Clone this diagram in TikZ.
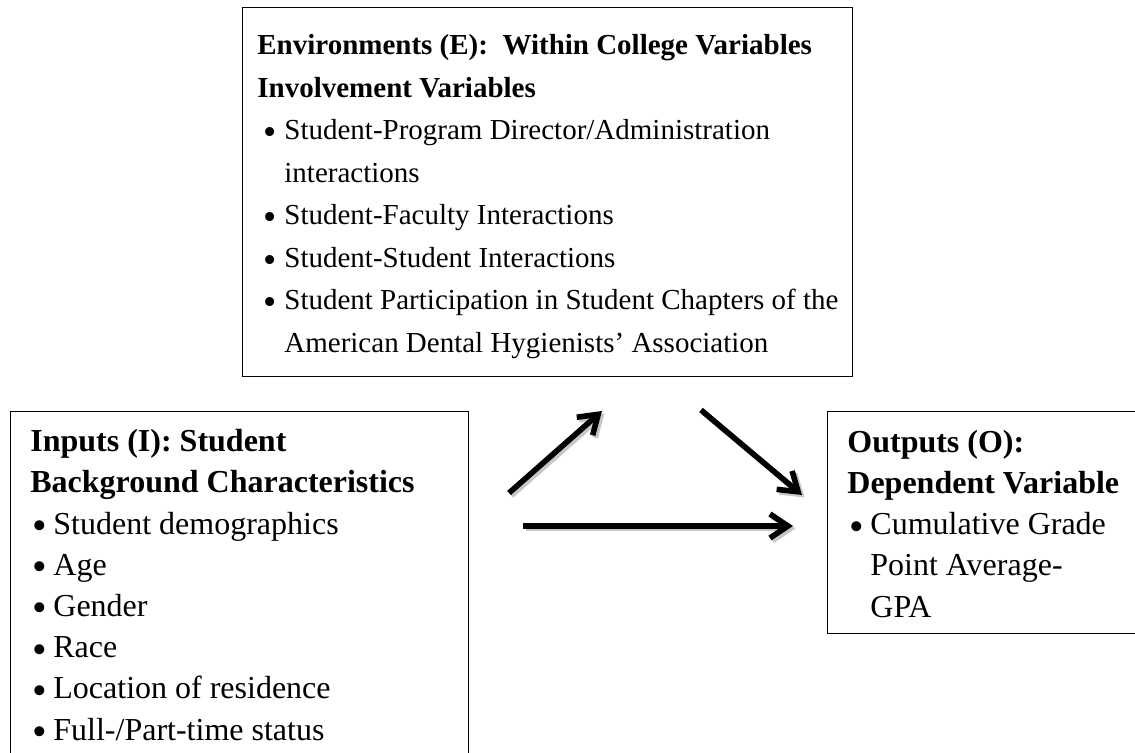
\documentclass[tikz,border=0pt]{standalone}
\usepackage{fontspec}
\setmainfont{Liberation Serif}
\usetikzlibrary{arrows.meta}
\newcommand{\bmark}{\raisebox{-0.17em}{\scalebox{1.3}{\textbullet}}}
\newcommand{\bitem}[2][1pt]{\hspace*{#1}\makebox[10.5pt][l]{\bmark}#2}% bullet line
\newcommand{\bcont}[2][1pt]{\hspace*{\dimexpr#1+10.5pt\relax}#2}% bullet line, continued
\tikzset{
  framebox/.style = {draw=black, line width=0.7pt, inner sep=0pt,
    anchor=north west},
  boxtext/.style = {align=left, inner sep=0pt, anchor=base west,
    font=\fontsize{16}{20.6}\selectfont},
  smalltext/.style = {boxtext, font=\fontsize{14.5}{21.25}\selectfont},
  flowarrow/.style = {line width=2.8pt,
    -{Straight Barb[length=9pt, width=12pt, line width=2.8pt]}},
  arrowshadow/.style = {flowarrow, draw=black!22}
}

\begin{document}
\begin{tikzpicture}[x=0.5pt, y=-0.5pt]
  \useasboundingbox (0,0) rectangle (1135,753);
  % the three boxes
  \node [framebox, minimum width=305pt, minimum height=184.5pt] (envbox) at (242,7) {};
  \node [framebox, minimum width=229pt, minimum height=177pt] (inbox) at (10,411) {};
  \node [framebox, minimum width=159pt, minimum height=111pt] (outbox) at (827,411) {};
  % box texts (anchored at their last line)
  \node [smalltext] (envtext) at (257,352.5) {%
    \textbf{Environments (E):\ \ Within College Variables}\\
    \textbf{Involvement Variables}\\
    \bitem[3pt]{Student-Program Director/Administration}\\
    \bcont[3pt]{interactions}\\
    \bitem[3pt]{Student-Faculty Interactions}\\
    \bitem[3pt]{Student-Student Interactions}\\
    \bitem[3pt]{Student Participation in Student Chapters of the}\\
    \bcont[3pt]{American Dental Hygienists’ Association}};
  \node [boxtext] (intext) at (30,740) {%
    \textbf{Inputs (I): Student}\\
    \textbf{Background Characteristics}\\
    \bitem{Student demographics}\\
    \bitem{Age}\\
    \bitem{Gender}\\
    \bitem{Race}\\
    \bitem{Location of residence}\\
    \bitem{Full-/Part-time status}};
  \node [boxtext] (outtext) at (847,617) {%
    \textbf{Outputs (O):}\\
    \textbf{Dependent Variable}\\
    \bitem{Cumulative Grade}\\
    \bcont{Point Average-}\\
    \bcont{GPA}};
  % arrows, each with a light shadow below it
  \coordinate (upstart) at (509,493);
  \coordinate (upend) at (602,411);
  \coordinate (downstart) at (701,410);
  \coordinate (downend) at (802,495);
  \coordinate (midstart) at (523,526);
  \coordinate (midend) at (793,526);
  \foreach \a/\b in {upstart/upend, downstart/downend, midstart/midend} {
    \draw [arrowshadow] ([shift={(2.5,2.5)}]\a) -- ([shift={(2.5,2.5)}]\b);
    \draw [flowarrow] (\a) -- (\b);
  }
\end{tikzpicture}
\end{document}
